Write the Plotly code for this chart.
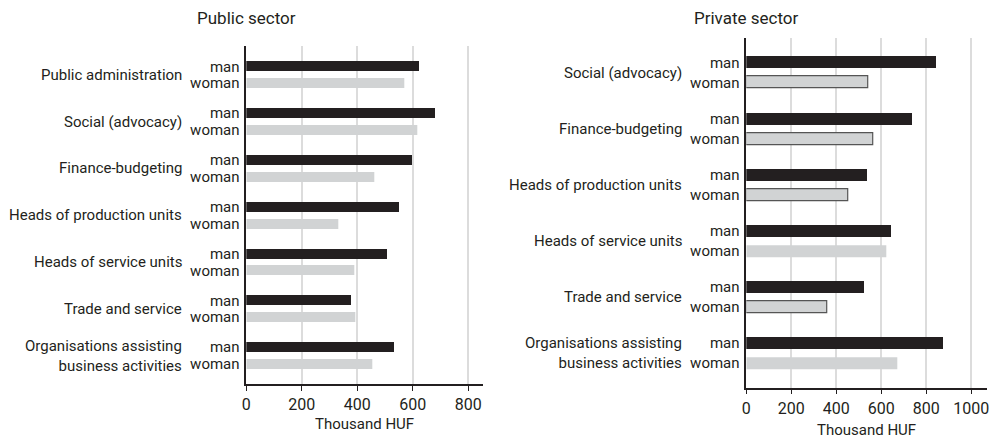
import plotly.graph_objects as go

public_categories = ["Public administration", "Social (advocacy)", "Finance-budgeting",
                     "Heads of production units", "Heads of service units", "Trade and service",
                     "Organisations assisting<br>business activities"]
public_man = [622, 680, 598, 553, 507, 377, 532]
public_woman = [568, 617, 461, 332, 388, 392, 453]

private_categories = ["Social (advocacy)", "Finance-budgeting", "Heads of production units",
                      "Heads of service units", "Trade and service",
                      "Organisations assisting<br>business activities"]
private_man = [843, 738, 539, 646, 523, 874]
private_woman = [542, 564, 455, 621, 359, 670]
private_woman_outlined = [True, True, True, False, True, False]

series_labels = ["man", "woman"]
x_ticks_public = [0, 200, 400, 600, 800]
x_ticks_private = [0, 200, 400, 600, 800, 1000]

FONT = "Roboto"
TXT = "#231f20"
MAN_C = "#231f20"
WOMAN_C = "#d1d3d4"
GRID_C = "#dcdcdc"
PERIOD = 2.8
PAD = 1.22
LBL = 15

fig = go.Figure()


def positions(n):
    man_y = [-(g * PERIOD) for g in range(n)]
    woman_y = [-(g * PERIOD + 1) for g in range(n)]
    return man_y, woman_y


def add_panel(cats, man, woman, xa, ya, outlined=None):
    n = len(cats)
    man_y, woman_y = positions(n)
    fig.add_trace(go.Bar(x=man, y=man_y, orientation="h", width=0.6,
                         marker=dict(color=MAN_C, line=dict(width=0)),
                         xaxis=xa, yaxis=ya, showlegend=False))
    if outlined is None:
        outlined = [False] * n
    fig.add_trace(go.Bar(x=woman, y=woman_y, orientation="h", width=0.6,
                         marker=dict(color=WOMAN_C,
                                     line=dict(color=["#555555" if o else WOMAN_C for o in outlined],
                                               width=[1.2 if o else 0 for o in outlined])),
                         xaxis=xa, yaxis=ya, showlegend=False))
    tickvals = []
    ticktext = []
    for g in range(n):
        tickvals += [man_y[g], woman_y[g]]
        ticktext += series_labels
    yref = "y" if ya == "y" else "y2"
    xref_dom = ("x" if xa == "x" else "x2") + " domain"
    for g, c in enumerate(cats):
        fig.add_annotation(text=c, x=0, xref=xref_dom, y=(man_y[g] + woman_y[g]) / 2, yref=yref,
                           xanchor="right", yanchor="middle", xshift=-62, showarrow=False,
                           align="right", font=dict(family=FONT, size=LBL, color=TXT))
    return tickvals, ticktext, -(n - 1) * PERIOD - 1 - PAD, PAD


tv1, tt1, lo1, hi1 = add_panel(public_categories, public_man, public_woman, "x", "y")
tv2, tt2, lo2, hi2 = add_panel(private_categories, private_man, private_woman, "x2", "y2",
                               private_woman_outlined)

xcommon = dict(showline=True, linecolor=TXT, linewidth=1.5, ticks="outside", ticklen=5,
               tickcolor=TXT, showgrid=True, gridcolor=GRID_C, gridwidth=1.5, automargin=False,
               zeroline=False, tickfont=dict(family=FONT, size=16, color=TXT))
ycommon = dict(showline=True, linecolor=TXT, linewidth=1.5, showgrid=False, zeroline=False,
               ticks="", ticklabelstandoff=2, automargin=False,
               tickfont=dict(family=FONT, size=LBL, color=TXT))

fig.update_layout(
    template="none",
    width=998, height=440,
    margin=dict(l=0, r=0, t=0, b=0),
    plot_bgcolor="white", paper_bgcolor="white",
    bargap=0,
    xaxis=dict(domain=[0.2468, 0.484], range=[0, 853], tickvals=x_ticks_public, anchor="y", **xcommon),
    yaxis=dict(domain=[0.1266, 0.8955], range=[lo1, hi1], tickvals=tv1, ticktext=tt1, anchor="x",
               **ycommon),
    xaxis2=dict(domain=[0.7478, 0.9893], range=[0, 1071], tickvals=x_ticks_private, anchor="y2",
                **xcommon),
    yaxis2=dict(domain=[0.1189, 0.913], range=[lo2, hi2], tickvals=tv2, ticktext=tt2, anchor="x2",
                **ycommon),
)

fig.add_annotation(text="Public sector", x=0, xref="x domain", y=1 - 18.3 / 440, yref="paper",
                   xanchor="center", yanchor="middle", showarrow=False,
                   font=dict(family=FONT, size=17, color=TXT))
fig.add_annotation(text="Private sector", x=0, xref="x2 domain", y=1 - 18.5 / 440, yref="paper",
                   xanchor="center", yanchor="middle", showarrow=False,
                   font=dict(family=FONT, size=17, color=TXT))
fig.add_annotation(text="Thousand HUF", x=0.5, xref="x domain", y=1 - 424 / 440, yref="paper",
                   xanchor="center", yanchor="middle", showarrow=False,
                   font=dict(family=FONT, size=15, color=TXT))
fig.add_annotation(text="Thousand HUF", x=0.5, xref="x2 domain", y=1 - 430 / 440, yref="paper",
                   xanchor="center", yanchor="middle", showarrow=False,
                   font=dict(family=FONT, size=15, color=TXT))

fig.write_html("out.html", config={"displayModeBar": False},
               post_script="document.body.style.margin='0';")
